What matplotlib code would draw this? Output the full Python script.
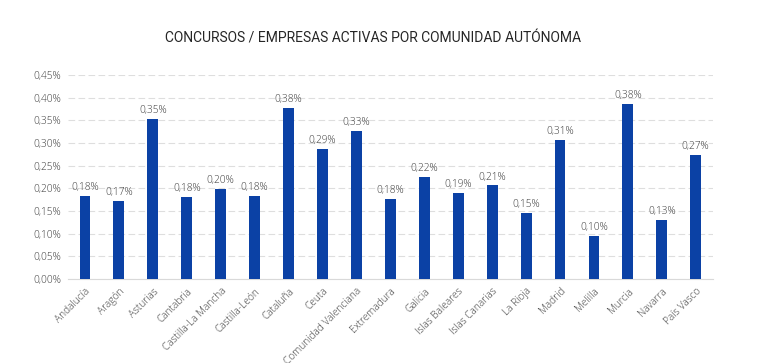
import matplotlib
matplotlib.use("Agg")
from matplotlib import pyplot as plt
from matplotlib.ticker import FuncFormatter

regiones = ["Andalucía", "Aragón", "Asturias", "Cantabria", "Castilla-La Mancha",
            "Castilla-León", "Cataluña", "Ceuta", "Comunidad Valenciana", "Extremadura",
            "Galicia", "Islas Baleares", "Islas Canarias", "La Rioja", "Madrid",
            "Melilla", "Murcia", "Navarra", "País Vasco"]
valores = [0.183, 0.172, 0.353, 0.181, 0.199, 0.183, 0.377, 0.287, 0.327, 0.177,
           0.225, 0.190, 0.207, 0.146, 0.307, 0.095, 0.386, 0.130, 0.274]
etiquetas = ["0,18%", "0,17%", "0,35%", "0,18%", "0,20%", "0,18%", "0,38%", "0,29%",
             "0,33%", "0,18%", "0,22%", "0,19%", "0,21%", "0,15%", "0,31%", "0,10%",
             "0,38%", "0,13%", "0,27%"]

gris = "#3c3c3c"
azul = "#0b41a5"

fig = plt.figure(figsize=(7.59, 3.63), dpi=100)
ax = fig.add_axes([0.0896, 0.2314, 0.8494, 0.5616])

x = range(len(regiones))
ax.bar(x, valores, width=0.32, color=azul, zorder=3)
for xi, v, t in zip(x, valores, etiquetas):
    ax.text(xi, v + 0.006, t, ha="center", va="bottom", fontsize=7.3,
            color=gris, family="Open Sans", fontweight="light")

ax.set_xlim(-0.5, len(regiones) - 0.5)
ax.set_ylim(0, 0.45)
ax.set_yticks([i * 0.05 for i in range(10)])
ax.yaxis.set_major_formatter(FuncFormatter(lambda v, p: f"{v:.2f}%".replace(".", ",")))
ax.grid(axis="y", color="#dedede", linestyle=(0, (6, 3)), linewidth=0.8, zorder=0)
ax.set_xticks(list(x))
ax.set_xticklabels(regiones, rotation=45, ha="right", rotation_mode="anchor")
for lab in ax.get_xticklabels() + ax.get_yticklabels():
    lab.set_fontsize(7.3)
    lab.set_color(gris)
    lab.set_family("Open Sans")
    lab.set_fontweight("light")
ax.tick_params(length=0, pad=5)
for s in ["top", "right", "left"]:
    ax.spines[s].set_visible(False)
ax.spines["bottom"].set_color("#d9d9d9")

fig.text(0.492, 0.895, "CONCURSOS / EMPRESAS ACTIVAS POR COMUNIDAD AUTÓNOMA",
         ha="center", va="center", fontsize=10, color="#262626", family="Roboto")

fig.savefig("out.png", dpi=100)
